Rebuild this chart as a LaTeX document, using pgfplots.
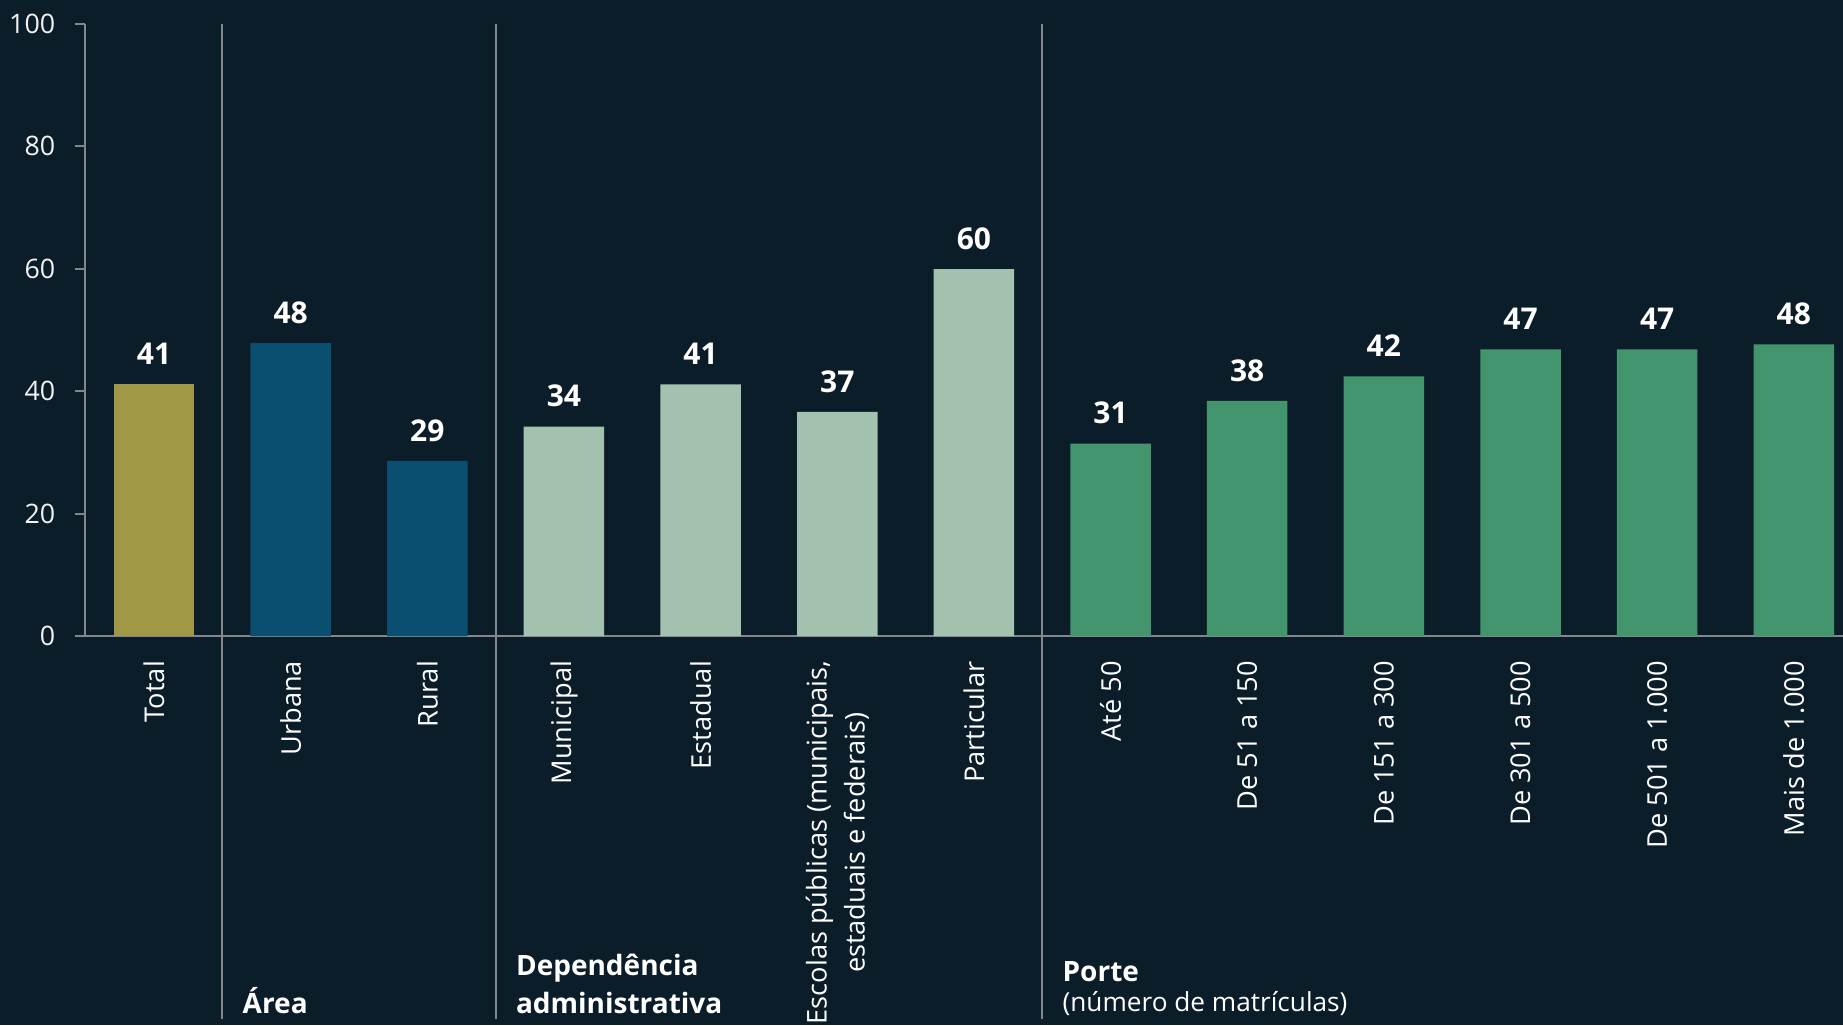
\documentclass[border=0pt]{standalone}
\usepackage{fontspec}
\setmainfont{Open Sans}
\usepackage{pgfplots}
\pgfplotsset{compat=1.18}

\definecolor{bg}{HTML}{0C1D2A}
\definecolor{axisgrey}{HTML}{83878B}
\definecolor{olive}{HTML}{A09747}
\definecolor{areablue}{HTML}{0A4F70}
\definecolor{paleg}{HTML}{A2C1AE}
\definecolor{porteg}{HTML}{42956C}

\begin{document}
\begin{tikzpicture}
\fill[bg] (-42.3pt,-194.5pt) rectangle (879.2pt,318pt);
\begin{axis}[
    at={(0,0)}, anchor=south west,
    scale only axis,
    width=879.2pt, height=306.25pt,
    xmin=-0.508, xmax=12.36,
    ymin=0, ymax=100,
    ybar, bar width=40.25pt,
    axis lines*=left,
    axis line style={draw=axisgrey, line width=1pt},
    tick align=outside, major tick length=5pt,
    ytick={0,20,...,100},
    ytick style={draw=axisgrey, line width=1pt},
    yticklabel style={font=\fontsize{13.4}{16}\selectfont, text=white!90!gray, inner sep=0pt},
    yticklabel shift=9.5pt,
    /pgf/number format/assume math mode=true,
    xtick={0,...,12},
    xtick style={draw=none},
    xticklabels={Total, Urbana, Rural, Municipal, Estadual,
        {Escolas públicas (municipais,\\estaduais e federais)}, Particular,
        Até 50, De 51 a 150, De 151 a 300, De 301 a 500, De 501 a 1.000, Mais de 1.000},
    xticklabel style={rotate=90, anchor=east, inner sep=0pt, align=center,
        font=\fontsize{13.6}{19}\selectfont, text=white},
    xticklabel shift=7.3pt,
    clip=false,
    nodes near coords={\pgfmathprintnumber[fixed,precision=0]{\pgfplotspointmeta}},
    every node near coord/.append style={font=\fontsize{15}{18}\selectfont\bfseries,
        text=white, inner sep=0pt, anchor=south, yshift=9.5pt},
]
% Total
\addplot[fill=olive, draw=none, bar shift=0pt] coordinates {(0,41.1)};
% Area
\addplot[fill=areablue, draw=none, bar shift=0pt] coordinates {(1,47.8) (2,28.6)};
% Dependencia administrativa
\addplot[fill=paleg, draw=none, bar shift=0pt] coordinates {(3,34.2) (4,41.1) (5,36.6) (6,59.9)};
% Porte
\addplot[fill=porteg, draw=none, bar shift=0pt] coordinates {(7,31.4) (8,38.4) (9,42.4) (10,46.8) (11,46.8) (12,47.6)};

% group separators
\draw[axisgrey, line width=1pt] (axis cs:0.5,100) -- ([yshift=-191.5pt]axis cs:0.5,0);
\draw[axisgrey, line width=1pt] (axis cs:2.5,100) -- ([yshift=-191.5pt]axis cs:2.5,0);
\draw[axisgrey, line width=1pt] (axis cs:6.5,100) -- ([yshift=-191.5pt]axis cs:6.5,0);

% group labels
\node[anchor=base west, inner sep=0pt, text=white, font=\fontsize{14}{19}\selectfont\bfseries]
    at ([xshift=10pt,yshift=-188.5pt]axis cs:0.5,0) {Área};
\node[anchor=base west, inner sep=0pt, text=white, font=\fontsize{14}{19}\selectfont\bfseries]
    at ([xshift=10pt,yshift=-169.5pt]axis cs:2.5,0) {Dependência};
\node[anchor=base west, inner sep=0pt, text=white, font=\fontsize{14}{19}\selectfont\bfseries]
    at ([xshift=10pt,yshift=-188.5pt]axis cs:2.5,0) {administrativa};
\node[anchor=base west, inner sep=0pt, text=white, font=\fontsize{14}{19}\selectfont\bfseries]
    at ([xshift=10pt,yshift=-172.5pt]axis cs:6.5,0) {Porte};
\node[anchor=base west, inner sep=0pt, text=white, font=\fontsize{13.1}{18}\selectfont]
    at ([xshift=10pt,yshift=-187.5pt]axis cs:6.5,0) {(número de matrículas)};
\end{axis}
\pgfresetboundingbox
\path (-42.3pt,-194.5pt) rectangle (879.2pt,318pt);
\end{tikzpicture}
\end{document}
